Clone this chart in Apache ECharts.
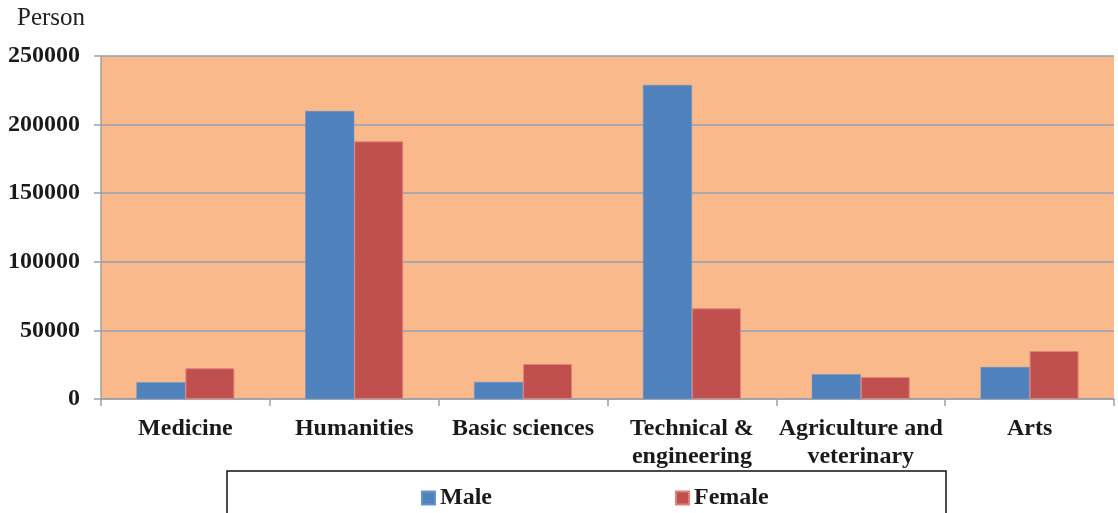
<!DOCTYPE html>
<html>
<head>
<meta charset="utf-8">
<script src="https://cdn.jsdelivr.net/npm/echarts@6/dist/echarts.min.js"></script>
<style>
  html, body { margin: 0; padding: 0; background: #fff; }
  #chart { width: 1118px; height: 513px; }
</style>
</head>
<body>
<div id="chart"></div>
<script>
var categories = ['Medicine', 'Humanities', 'Basic sciences', 'Technical &\nengineering', 'Agriculture and\nveterinary', 'Arts'];
var male = [12200, 209900, 12400, 228900, 18000, 23300];
var female = [22400, 187800, 25500, 66100, 16000, 35000];
var yTicks = [0, 50000, 100000, 150000, 200000, 250000];

var font = '"Liberation Serif", "Times New Roman", serif';
var chart = echarts.init(document.getElementById('chart'));

var option = {
  animation: false,
  title: {
    text: 'Person',
    left: 12,
    top: 1,
    textStyle: { fontFamily: font, fontWeight: 'normal', fontSize: 25, color: '#222' }
  },
  legend: {
    data: ['Male', 'Female'],
    left: 416,
    top: 481,
    itemWidth: 13,
    itemHeight: 13,
    itemGap: 183,
    icon: 'rect',
    textStyle: { fontFamily: font, fontWeight: 'bold', fontSize: 24, color: '#1a1a1a' }
  },
  graphic: [{
    type: 'rect',
    shape: { x: 227, y: 471, width: 719, height: 60 },
    style: { fill: 'none', stroke: '#111', lineWidth: 1.5 },
    z: 0
  }],
  grid: { left: 101, top: 56, right: 4, bottom: 114, backgroundColor: '#F9B98B', show: true, borderWidth: 0 },
  xAxis: {
    type: 'category',
    data: categories,
    axisLine: { lineStyle: { color: '#a0a0a0', width: 1.5 } },
    axisTick: { show: true, length: 7, lineStyle: { color: '#a0a0a0', width: 1.5 } },
    axisLabel: { interval: 0, margin: 16, lineHeight: 28, fontFamily: font, fontWeight: 'bold', fontSize: 24, color: '#1a1a1a' }
  },
  yAxis: {
    type: 'value',
    min: 0,
    max: 250000,
    interval: 50000,
    axisLine: { show: true, lineStyle: { color: '#a0a0a0', width: 1.5 } },
    axisTick: { show: true, length: 7, lineStyle: { color: '#a0a0a0', width: 1.5 } },
    splitLine: { lineStyle: { color: '#8fa2bb', width: 1.5 } },
    axisLabel: {
      margin: 21,
      fontFamily: font, fontWeight: 'bold', fontSize: 24, color: '#1a1a1a',
      formatter: function (v) { return yTicks.indexOf(v) >= 0 ? String(v) : ''; }
    }
  },
  series: [
    {
      name: 'Male', type: 'bar', data: male,
      barGap: '0%', barCategoryGap: '42%',
      itemStyle: { color: '#4F81BD', borderColor: '#6a93c6', borderWidth: 0.5 }
    },
    {
      name: 'Female', type: 'bar', data: female,
      itemStyle: { color: '#C0504D', borderColor: '#e0807a', borderWidth: 1 }
    }
  ]
};
chart.setOption(option);
</script>
</body>
</html>
